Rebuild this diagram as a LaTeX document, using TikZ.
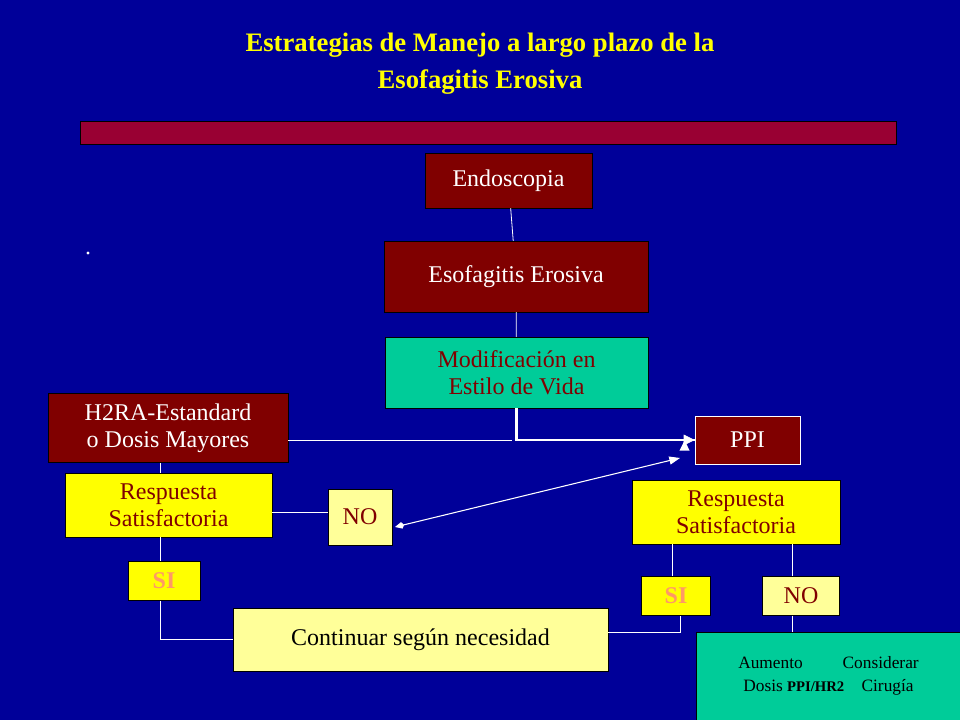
\documentclass[tikz,border=0pt]{standalone}
\usepackage{fontspec}
\setmainfont{Liberation Serif}
\usetikzlibrary{arrows.meta}
\definecolor{bg}{HTML}{000099}
\definecolor{dred}{HTML}{800000}
\definecolor{bar}{HTML}{990033}
\definecolor{teal}{HTML}{00CC99}
\definecolor{yel}{HTML}{FFFF00}
\definecolor{lyel}{HTML}{FFFF99}
\definecolor{sal}{HTML}{FF9966}
\tikzset{
 bx/.style={draw=black,inner sep=0pt,align=center,font=\fontsize{18}{20}\selectfont},
 redb/.style={bx,fill=dred,text=white},
 ln/.style={draw=white,line width=0.6pt},
}
\begin{document}
\begin{tikzpicture}[x=0.75pt,y=-0.75pt]
\useasboundingbox (0,0) rectangle (960,720);
\fill[bg] (0,0) rectangle (960,720);
\node[text=yel,font=\bfseries\fontsize{20}{28}\selectfont,align=center] (title) at (480,64) {Estrategias de Manejo a largo plazo de la\\Esofagitis Erosiva};
\fill[bar,draw=black] (80,121) rectangle (896,144);
\node[fill=white,circle,inner sep=0.8pt] (dot) at (88,253) {};
\node[redb,minimum width=125pt,minimum height=41pt] (endo) at (508.5,180.5) {Endoscopia};
\node[redb,minimum width=198pt,minimum height=53pt] (eso) at (516,276.5) {Esofagitis Erosiva};
\node[bx,fill=teal,text=dred,minimum width=197pt,minimum height=53pt] (mod) at (516.5,372.5) {Modificación en\\Estilo de Vida};
\node[redb,minimum width=180pt,minimum height=52pt] (h2) at (168,428) {H2RA-Estandard\\o Dosis Mayores};
\node[bx,draw=white,fill=dred,text=white,minimum width=79pt,minimum height=36pt] (ppi) at (747.5,440) {PPI};
\node[bx,fill=yel,text=dred,minimum width=155pt,minimum height=48pt] (r1) at (168.5,505) {Respuesta\\Satisfactoria};
\node[bx,fill=lyel,text=dred,minimum width=48pt,minimum height=42pt] (no1) at (360,517) {NO};
\node[bx,fill=yel,text=dred,minimum width=156pt,minimum height=48pt] (r2) at (736,512) {Respuesta\\Satisfactoria};
\node[bx,fill=yel,text=sal,font=\bfseries\fontsize{18}{20}\selectfont,minimum width=54pt,minimum height=29pt] (si1) at (164,581) {SI};
\node[bx,fill=yel,text=sal,font=\bfseries\fontsize{18}{20}\selectfont,minimum width=52pt,minimum height=29pt] (si2) at (676,596) {SI};
\node[bx,fill=lyel,text=dred,minimum width=58pt,minimum height=29pt] (no2) at (801,596) {NO};
\node[bx,fill=lyel,text=black,minimum width=281pt,minimum height=47pt] (cont) at (420.5,639.5) {Continuar según necesidad};
\node[bx,fill=teal,text=black,minimum width=198pt,minimum height=66pt,font=\fontsize{13}{17}\selectfont] (green) at (828.5,676) {Aumento\hspace{2.3em}Considerar\\Dosis {\bfseries\fontsize{11}{13}\selectfont PPI/HR2}\hspace{1em}Cirugía};
\draw[ln] (endo) -- (eso);
\draw[ln] (eso) -- (mod);
\draw[draw=white,line width=2pt,-{Triangle[length=8pt,width=7pt]}] (mod.south) |- (ppi.west |- 0,440) ++(-10,0);
\draw[draw=white,line width=2pt] (mod.south) |- (684,440);
\draw[white,fill=white] (694,440) -- (684,435) -- (684,445) -- cycle;
\draw[ln] (h2.east |- 0,440) -- (512,440);
\draw[ln] (h2.south -| 160,0) -- (r1.north -| 160,0);
\draw[ln] (r1.east |- 0,512) -- (no1.west |- 0,512) ++(-8,0);
\draw[draw=white,line width=0.8pt,{Kite[length=7pt,width=5pt]}-{Triangle[length=8pt,width=6pt]}] (395,527) -- (680,458);
\draw[ln] (r1.south -| 160,0) -- (si1.north -| 160,0);
\draw[ln] (si1.south -| 160,0) |- (cont.west);
\draw[ln] (cont.east |- 0,632) -| (si2.south -| 680,0);
\draw[ln] (r2.south -| 672,0) -- (si2.north -| 672,0);
\draw[ln] (r2.south -| 792,0) -- (no2.north -| 792,0);
\draw[ln] (no2.south -| 792,0) -- (green.north -| 792,0);
\end{tikzpicture}
\end{document}
